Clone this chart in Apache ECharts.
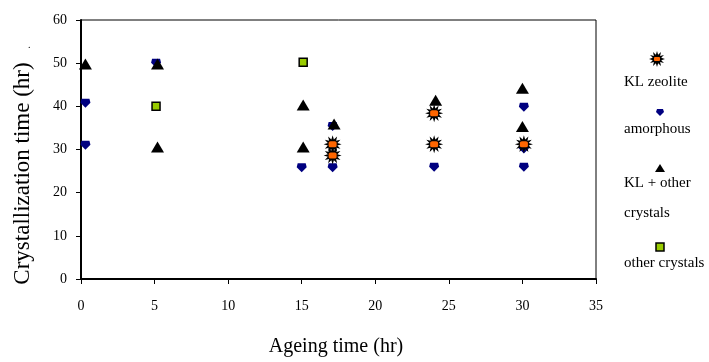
<!DOCTYPE html>
<html>
<head>
<meta charset="utf-8">
<script src="https://cdn.jsdelivr.net/npm/echarts@6/dist/echarts.min.js"></script>
<style>
  html, body { margin: 0; padding: 0; background: #fff; }
  #chart { width: 709px; height: 362px; }
</style>
</head>
<body>
<div id="chart"></div>
<script>
// ageing time (hr), crystallization time (hr)
const klZeolite = [[17.1, 31.2], [17.1, 28.6], [24, 38.4], [24, 31.2], [30.1, 31.2]];
const amorphous = [[0.3, 40.7], [0.3, 31], [5.1, 50], [15, 25.8], [17.1, 25.8], [17.1, 35.3],
  [24, 25.9], [30.1, 25.9], [30.1, 39.8], [30.1, 30.1]];
const klOther = [[0.3, 49.8], [5.2, 49.8], [5.2, 30.6], [15.1, 40.3], [15.1, 30.6],
  [17.2, 35.9], [24.1, 41.4], [30, 44.2], [30, 35.3]];
const otherCrystals = [[5.1, 40], [15.1, 50.2]];

const yTicks = [0, 10, 20, 30, 40, 50, 60];
const xTicks = [0, 5, 10, 15, 20, 25, 30, 35];

const serif = "Liberation Serif";

// starburst outline, 12 points, centred on (cx, cy)
function starPoints(cx, cy, ro, ri) {
  const pts = [];
  const n = 12;
  for (let i = 0; i < n * 2; i++) {
    const r = i % 2 === 0 ? ro : ri;
    const a = (Math.PI * i) / n - Math.PI / 2;
    pts.push([cx + r * Math.cos(a), cy + r * Math.sin(a)]);
  }
  return pts;
}
const STAR = "path://M" + starPoints(10, 10, 10, 5.5).map((p) => p[0].toFixed(2) + "," + p[1].toFixed(2)).join("L") + "Z";
const SHIELD = "path://M1,0L9,0L10,4L5,9L0,4Z";

const chartDom = document.getElementById("chart");
const myChart = echarts.init(chartDom);

const legendX = 660;
function legendText(txt, y) {
  return {
    type: "text", x: 624, y: y,
    style: { text: txt, font: "15px " + serif, fill: "#000", align: "left", verticalAlign: "middle" },
  };
}

const option = {
  animation: false,
  textStyle: { fontFamily: serif },
  grid: { left: 81, right: 113, top: 20, bottom: 77, show: true, borderColor: "#000", borderWidth: 1 },
  xAxis: {
    type: "value", min: 0, max: 35, interval: 5,
    axisLine: { onZero: false, lineStyle: { color: "#000", width: 2 } },
    axisTick: { show: true, length: 5, lineStyle: { color: "#000", width: 1 } },
    axisLabel: { color: "#000", fontSize: 14, fontFamily: serif, margin: 20,
      formatter: (v) => (xTicks.includes(v) ? String(v) : "") },
    splitLine: { show: false },
    name: "Ageing time (hr)", nameLocation: "middle", nameGap: 58,
    nameTextStyle: { color: "#000", fontSize: 20, fontFamily: serif, padding: [0, 5, 0, 0] },
  },
  yAxis: {
    type: "value", min: 0, max: 60, interval: 10,
    axisLine: { show: true, onZero: false, lineStyle: { color: "#000", width: 2 } },
    axisTick: { show: true, length: 5, lineStyle: { color: "#000", width: 1 } },
    axisLabel: { color: "#000", fontSize: 14, fontFamily: serif, margin: 14,
      formatter: (v) => (yTicks.includes(v) ? String(v) : "") },
    splitLine: { show: false },
    name: "Crystallization time (hr)", nameLocation: "middle", nameGap: 47,
    nameTextStyle: { color: "#000", fontSize: 23, fontFamily: serif, padding: [0, 48, 0, 0] },
  },
  series: [
    {
      name: "amorphous", type: "scatter", data: amorphous,
      symbol: SHIELD, symbolSize: [10, 9],
      itemStyle: { color: "#000080", opacity: 1 },
    },
    {
      name: "KL + other crystals", type: "scatter", data: klOther,
      symbol: "triangle", symbolSize: [13, 11],
      itemStyle: { color: "#000", opacity: 1 },
    },
    {
      name: "KL zeolite", type: "scatter", data: klZeolite,
      symbol: STAR, symbolSize: 18,
      itemStyle: { color: "#000", opacity: 1 },
    },
    {
      name: "KL zeolite centre", type: "scatter", data: klZeolite,
      symbol: "roundRect", symbolSize: [8, 6],
      itemStyle: { color: "#ff6600", opacity: 1 },
    },
    {
      name: "other crystals", type: "scatter", data: otherCrystals,
      symbol: "rect", symbolSize: 8,
      itemStyle: { color: "#99cc00", borderColor: "#000", borderWidth: 1.5, opacity: 1 },
    },
  ],
  graphic: [
    { type: "text", x: 28, y: 40, style: { text: ".", font: "10px " + serif, fill: "#000" } },
    // legend: icon above text
    { type: "polygon", shape: { points: starPoints(657, 59, 8, 4.4) }, style: { fill: "#000" } },
    { type: "rect", shape: { x: 654, y: 57, width: 6, height: 4, r: 1 }, style: { fill: "#ff6600" } },
    legendText("KL zeolite", 82),
    { type: "polygon", shape: { points: [[legendX - 3, 109], [legendX + 3, 109], [legendX + 4, 112], [legendX, 116], [legendX - 4, 112]] },
      style: { fill: "#000080" } },
    legendText("amorphous", 129),
    { type: "polygon", shape: { points: [[legendX - 5, 172], [legendX + 5, 172], [legendX, 164]] },
      style: { fill: "#000" } },
    legendText("KL + other", 183),
    legendText("crystals", 213),
    { type: "rect", shape: { x: legendX - 4, y: 243, width: 8, height: 8 },
      style: { fill: "#99cc00", stroke: "#000", lineWidth: 1.5 } },
    legendText("other crystals", 263),
  ],
};

myChart.setOption(option);
window.addEventListener("resize", () => {
  myChart.resize();
});
</script>
</body>
</html>
